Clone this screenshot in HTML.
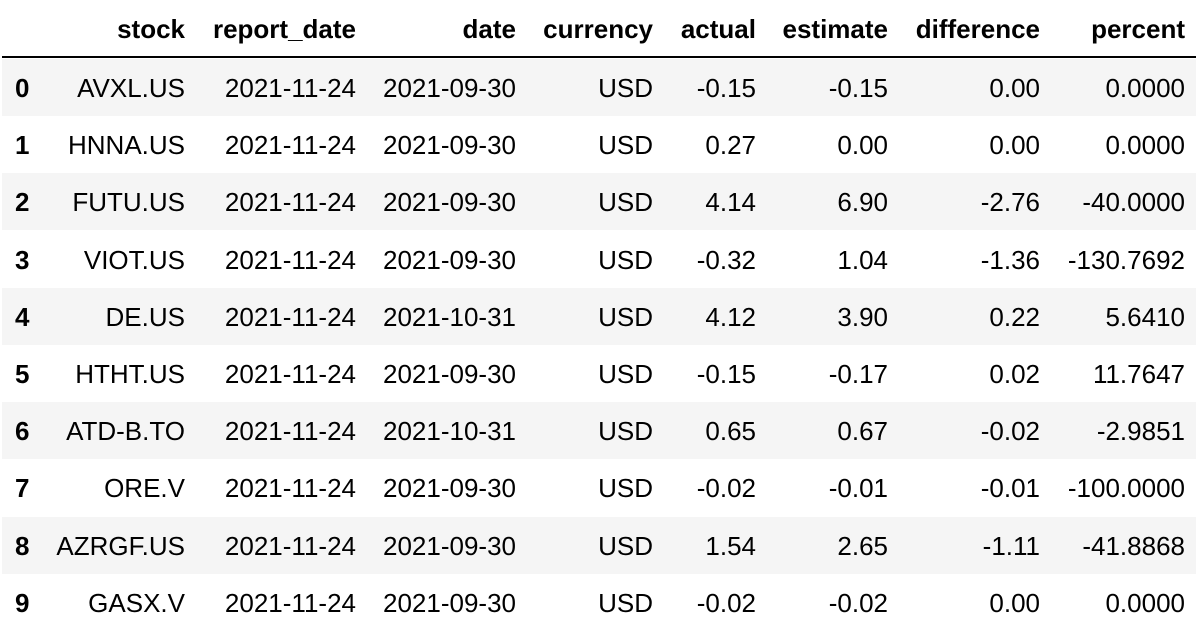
<!DOCTYPE html>
<html><head><meta charset="utf-8"><style>
body{margin:0;width:1196px;height:635px;background:#fff;overflow:hidden;font-family:"Liberation Sans",Arial,sans-serif;color:#000}
.row{position:absolute;left:2px;width:1194px;height:57px}
.row.g{background:#f5f5f5}
.c{position:absolute;top:0;height:57px;line-height:58px;font-size:26px;text-align:right;white-space:nowrap}
.h .c{font-weight:bold}
.idx{font-weight:bold;text-align:left}
#line{position:absolute;left:2px;top:56px;width:1194px;height:2px;background:#000}
</style></head><body>
<div id="table"></div>
<div id="line"></div>
<script>
const headers=["stock","report_date","date","currency","actual","estimate","difference","percent"];
const stocks=["AVXL.US","HNNA.US","FUTU.US","VIOT.US","DE.US","HTHT.US","ATD-B.TO","ORE.V","AZRGF.US","GASX.V"];
const reportDates=["2021-11-24","2021-11-24","2021-11-24","2021-11-24","2021-11-24","2021-11-24","2021-11-24","2021-11-24","2021-11-24","2021-11-24"];
const dates=["2021-09-30","2021-09-30","2021-09-30","2021-09-30","2021-10-31","2021-09-30","2021-10-31","2021-09-30","2021-09-30","2021-09-30"];
const currencies=["USD","USD","USD","USD","USD","USD","USD","USD","USD","USD"];
const actuals=["-0.15","0.27","4.14","-0.32","4.12","-0.15","0.65","-0.02","1.54","-0.02"];
const estimates=["-0.15","0.00","6.90","1.04","3.90","-0.17","0.67","-0.01","2.65","-0.02"];
const differences=["0.00","0.00","-2.76","-1.36","0.22","0.02","-0.02","-0.01","-1.11","0.00"];
const percents=["0.0000","0.0000","-40.0000","-130.7692","5.6410","11.7647","-2.9851","-100.0000","-41.8868","0.0000"];
const rightEdges=[185,356,516,653,756,888,1040,1185];
const colNames=["stock","report-date","date","currency","actual","estimate","difference","percent"];
const T=document.getElementById('table');
function cell(row,text,right,name){
  const d=document.createElement('div');
  d.className='c';
  
  
  d.style.right=(1196-right)+'px';
  d.textContent=text;
  row.appendChild(d);
}
const h=document.createElement('div');
h.className='row h';
h.style.top='0px';


headers.forEach((t,i)=>cell(h,t,rightEdges[i],'header-'+colNames[i]));
T.appendChild(h);
const cols=[stocks,reportDates,dates,currencies,actuals,estimates,differences,percents];
for(let r=0;r<stocks.length;r++){
  const row=document.createElement('div');
  row.className='row'+(r%2==0?' g':'');
  row.style.top=(59+r*57.2)+'px';
  
  
  const ix=document.createElement('div');
  ix.className='c idx';
  
  
  ix.style.left='13px';
  ix.textContent=r;
  row.appendChild(ix);
  cols.forEach((c,i)=>cell(row,c[r],rightEdges[i],'cell-'+colNames[i]));
  T.appendChild(row);
}
</script>
</body></html>
